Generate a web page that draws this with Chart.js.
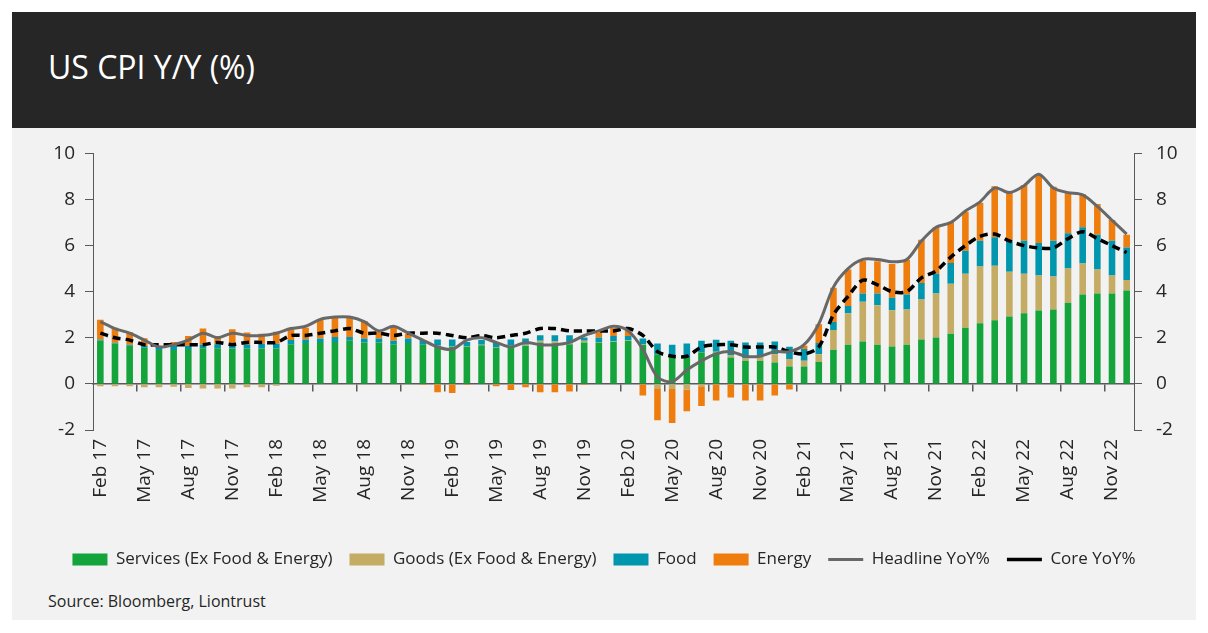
<!DOCTYPE html>
<html>
<head>
<meta charset="utf-8">
<title>US CPI Y/Y (%)</title>
<script src="https://cdn.jsdelivr.net/npm/chart.js@4.4.0/dist/chart.umd.min.js"></script>
<style>
  body { margin: 0; background: #ffffff; font-family: "Open Sans", sans-serif; }
  #header {
    position: absolute; left: 12px; top: 12px; width: 1184px; height: 116px;
    background: #262626;
  }
  #header h1 {
    position: absolute; left: 36px; top: 33px; margin: 0;
    font-weight: normal; font-size: 32px; color: #ffffff; letter-spacing: 0px;
  }
  #panel {
    position: absolute; left: 12px; top: 128px; width: 1184px; height: 492px;
    background: #f2f2f2;
  }
  #chart { position: absolute; left: 0; top: 0; }
  #source {
    position: absolute; left: 36px; top: 462px;
    font-size: 16px; color: #262626;
  }
</style>
</head>
<body>
<div id="header"><h1>US CPI Y/Y (%)</h1></div>
<div id="panel">
  <canvas id="chart" width="1184" height="450"></canvas>
  <div id="source">Source: Bloomberg, Liontrust</div>
</div>
<script>
"use strict";

// monthly, Feb 2017 .. Dec 2022
var months = [
  "Feb 17","Mar 17","Apr 17","May 17","Jun 17","Jul 17","Aug 17","Sep 17","Oct 17","Nov 17","Dec 17",
  "Jan 18","Feb 18","Mar 18","Apr 18","May 18","Jun 18","Jul 18","Aug 18","Sep 18","Oct 18","Nov 18","Dec 18",
  "Jan 19","Feb 19","Mar 19","Apr 19","May 19","Jun 19","Jul 19","Aug 19","Sep 19","Oct 19","Nov 19","Dec 19",
  "Jan 20","Feb 20","Mar 20","Apr 20","May 20","Jun 20","Jul 20","Aug 20","Sep 20","Oct 20","Nov 20","Dec 20",
  "Jan 21","Feb 21","Mar 21","Apr 21","May 21","Jun 21","Jul 21","Aug 21","Sep 21","Oct 21","Nov 21","Dec 21",
  "Jan 22","Feb 22","Mar 22","Apr 22","May 22","Jun 22","Jul 22","Aug 22","Sep 22","Oct 22","Nov 22","Dec 22"
];

// contributions to headline Y/Y (pp)
var services = [
  1.88,1.75,1.65,1.57,1.47,1.47,1.51,1.55,1.55,1.54,1.54,
  1.54,1.54,1.72,1.77,1.82,1.82,1.87,1.80,1.80,1.72,1.77,1.70,
  1.65,1.62,1.62,1.68,1.58,1.65,1.65,1.80,1.75,1.72,1.80,1.80,
  1.82,1.87,1.70,1.29,1.18,1.12,1.36,1.36,1.15,1.00,1.00,0.93,
  0.75,0.75,0.96,1.48,1.70,1.84,1.70,1.62,1.70,1.93,2.01,2.18,
  2.44,2.63,2.76,2.92,3.06,3.18,3.23,3.52,3.88,3.92,3.92,4.05
];
var goods = [
  -0.10,-0.10,-0.10,-0.15,-0.15,-0.12,-0.18,-0.20,-0.20,-0.20,-0.15,
  -0.15,-0.08,-0.05,-0.03,-0.03,-0.02,-0.02,-0.02,-0.02,-0.02,-0.02,0.00,
  0.02,0.02,0.02,0.02,0.02,0.02,0.05,0.07,0.09,0.03,0.07,0.02,
  0.02,0.02,0.02,-0.22,-0.22,-0.24,-0.10,0.03,0.10,0.10,0.15,0.36,
  0.33,0.25,0.33,0.86,1.36,1.72,1.71,1.57,1.53,1.73,1.91,2.17,
  2.34,2.46,2.37,1.95,1.72,1.52,1.43,1.49,1.34,1.04,0.78,0.46
];
var food = [
  0.05,0.03,0.05,0.07,0.16,0.17,0.15,0.15,0.17,0.15,0.17,
  0.20,0.20,0.18,0.16,0.15,0.22,0.17,0.17,0.17,0.15,0.20,0.20,
  0.26,0.29,0.18,0.20,0.20,0.26,0.27,0.24,0.27,0.36,0.14,0.19,
  0.24,0.19,0.25,0.46,0.52,0.63,0.51,0.53,0.62,0.70,0.65,0.55,
  0.53,0.51,0.48,0.35,0.32,0.36,0.51,0.55,0.65,0.72,0.86,0.89,
  1.00,1.12,1.23,1.35,1.43,1.41,1.55,1.53,1.58,1.51,1.51,1.41
];
var energy = [
  0.85,0.66,0.55,0.34,0.04,0.18,0.42,0.70,0.35,0.68,0.52,
  0.44,0.52,0.47,0.51,0.80,0.83,0.91,0.76,0.29,0.62,0.19,-0.05,
  -0.36,-0.40,-0.05,-0.03,-0.10,-0.26,-0.15,-0.36,-0.36,-0.33,-0.05,0.22,
  0.34,0.22,-0.50,-1.36,-1.48,-0.95,-0.86,-0.72,-0.59,-0.72,-0.72,-0.50,
  -0.24,0.14,0.82,1.48,1.58,1.42,1.40,1.46,1.51,1.87,2.02,1.80,
  1.69,1.65,2.22,2.07,2.41,2.97,2.34,1.75,1.43,1.33,0.90,0.55
];
var headline = [
  2.7,2.4,2.2,1.9,1.6,1.7,1.9,2.2,2.0,2.2,2.1,
  2.1,2.2,2.4,2.5,2.8,2.9,2.9,2.7,2.3,2.5,2.2,1.9,
  1.6,1.5,1.9,2.0,1.8,1.6,1.8,1.7,1.7,1.8,2.1,2.3,
  2.5,2.3,1.5,0.3,0.1,0.6,1.0,1.3,1.4,1.2,1.2,1.4,
  1.4,1.7,2.6,4.2,5.0,5.4,5.4,5.3,5.4,6.2,6.8,7.0,
  7.5,7.9,8.5,8.3,8.6,9.1,8.5,8.3,8.2,7.7,7.1,6.5
];
var core = [
  2.2,2.0,1.9,1.7,1.7,1.7,1.7,1.7,1.8,1.7,1.8,
  1.8,1.8,2.1,2.1,2.2,2.3,2.4,2.2,2.2,2.1,2.2,2.2,
  2.2,2.1,2.0,2.1,2.0,2.1,2.2,2.4,2.4,2.3,2.3,2.3,
  2.3,2.4,2.1,1.4,1.2,1.2,1.6,1.7,1.7,1.6,1.6,1.6,
  1.4,1.3,1.6,3.0,3.8,4.5,4.3,4.0,4.0,4.6,4.9,5.5,
  6.0,6.4,6.5,6.2,6.0,5.9,5.9,6.3,6.6,6.3,6.0,5.7
];
var yTicks = [-2, 0, 2, 4, 6, 8, 10];

var font = "'Open Sans', sans-serif";
var textColor = "#262626";
var axisColor = "#595959";

function barSet(label, data, color) {
  return {
    type: "bar",
    label: label,
    data: data,
    backgroundColor: color,
    borderWidth: 0,
    stack: "cpi",
    order: 2,
    barPercentage: 0.45,
    categoryPercentage: 1.0,
    pointStyle: "rect"
  };
}

function lineSet(label, data, color, width, dash, stack) {
  return {
    type: "line",
    label: label,
    data: data,
    borderColor: color,
    backgroundColor: color,
    borderWidth: width,
    borderDash: dash,
    pointRadius: 0,
    tension: 0.3,
    stack: stack,
    order: 1,
    pointStyle: "line"
  };
}

var yAxis = function(position, width, padding) {
  return {
    position: position,
    stacked: true,
    min: -2,
    max: 10,
    afterBuildTicks: function(scale) {
      scale.ticks = yTicks.map(function(v) { return { value: v }; });
    },
    afterFit: function(scale) { scale.width = width; },
    border: { display: true, color: axisColor, width: 1 },
    grid: { drawOnChartArea: false, drawTicks: true, tickLength: 8, color: axisColor },
    ticks: { color: textColor, padding: padding, font: { family: font, size: 19 } }
  };
};

new Chart(document.getElementById("chart"), {
  type: "bar",
  data: {
    labels: months,
    datasets: [
      barSet("Services (Ex Food & Energy)", services, "#13a43c"),
      barSet("Goods (Ex Food & Energy)", goods, "#c4ac64"),
      barSet("Food", food, "#0096ae"),
      barSet("Energy", energy, "#ee7d0d"),
      lineSet("Headline YoY%", headline, "#686868", 3, [], "h"),
      lineSet("Core YoY%", core, "#000000", 3.5, [8, 5], "c")
    ]
  },
  options: {
    responsive: false,
    devicePixelRatio: 1,
    animation: false,
    layout: { padding: { top: 25, left: 0, right: 0, bottom: 0 } },
    plugins: {
      tooltip: { enabled: false },
      legend: {
        position: "bottom",
        labels: {
          usePointStyle: true,
          pointStyleWidth: 35,
          boxHeight: 12,
          padding: 17,
          color: textColor,
          font: { family: font, size: 17 },
          sort: function(a, b) { return a.datasetIndex - b.datasetIndex; }
        }
      }
    },
    scales: {
      x: {
        stacked: true,
        afterFit: function(scale) { scale.height = 104; },
        border: { display: false },
        grid: { display: false, drawTicks: false },
        ticks: {
          autoSkip: false,
          minRotation: 90,
          maxRotation: 90,
          padding: 9,
          color: textColor,
          font: { family: font, size: 19 },
          callback: function(value, index) {
            return index % 3 === 0 ? months[index] : "";
          }
        }
      },
      xZero: {
        type: "category",
        axis: "x",
        position: { y: 0 },
        offset: true,
        border: { display: true, color: axisColor, width: 1.5 },
        grid: {
          offset: true,
          drawOnChartArea: false,
          drawTicks: true,
          tickLength: 7,
          lineWidth: 1.5,
          color: function(ctx) {
            return (ctx.index > 0 && ctx.index % 3 === 0) ? axisColor : "rgba(0,0,0,0)";
          }
        },
        ticks: { display: false, autoSkip: false }
      },
      y: yAxis("left", 81, 10),
      y1: yAxis("right", 62, 14)
    }
  }
});
</script>
</body>
</html>
